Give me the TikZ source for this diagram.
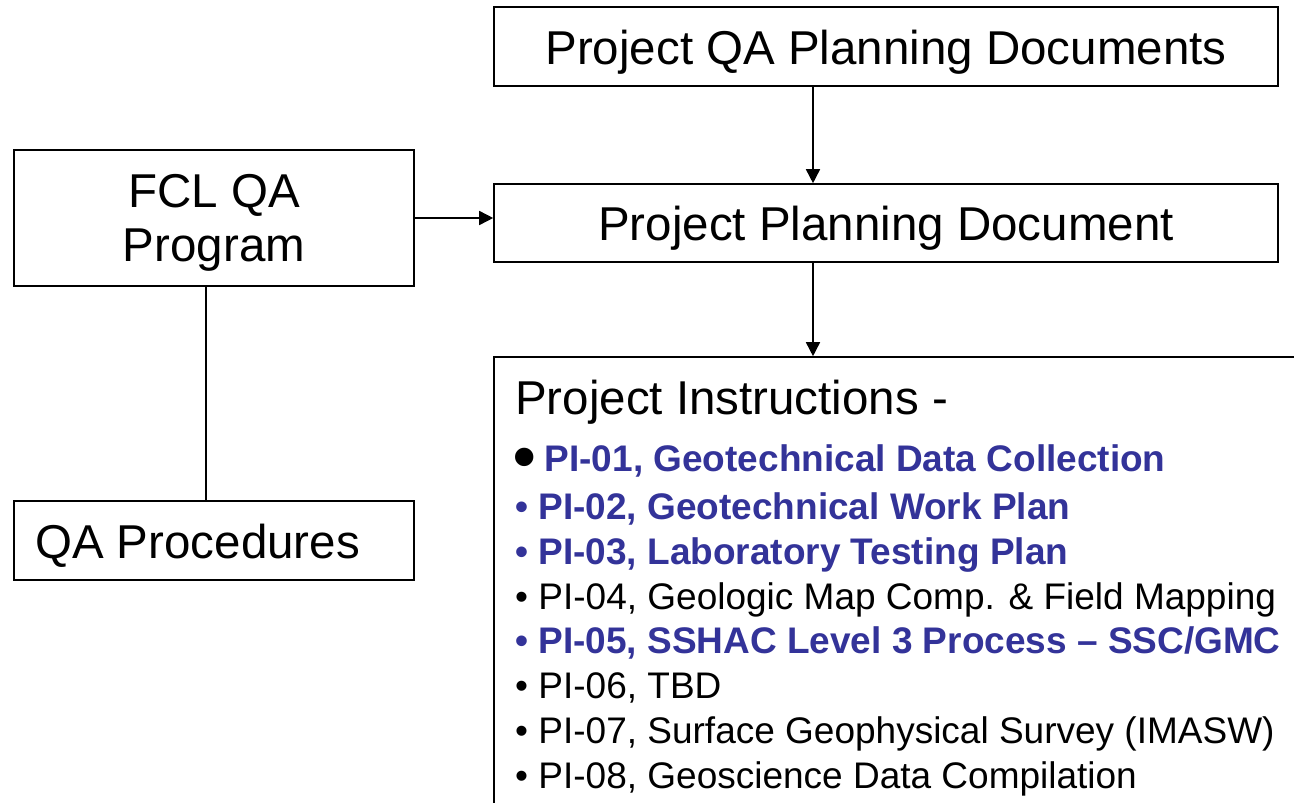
\documentclass[tikz,border=0pt]{standalone}
\usepackage{fontspec}
\setmainfont{Liberation Sans}
\newfontfamily\bigf{Liberation Sans}
\newfontfamily\smf{Liberation Sans}
\usetikzlibrary{arrows.meta}
\definecolor{piblue}{HTML}{333399}
\tikzset{
  box/.style={draw=black, line width=1.6pt, rectangle, inner sep=0pt},
  arr/.style={line width=1.6pt, -{Triangle[length=14pt,width=14pt]}},
  conn/.style={line width=1.6pt},
  bigtxt/.style={inner sep=0pt, font=\bigf\fontsize{47.5}{55}\selectfont},
  item/.style={inner sep=0pt, anchor=base west, font=\smf\fontsize{37}{45}\selectfont},
  blueitem/.style={item, text=piblue, font=\smf\bfseries\fontsize{37}{45}\selectfont},
}
\begin{document}
\begin{tikzpicture}[x=1pt,y=-1pt]
\useasboundingbox (0,0) rectangle (1294,803);
\clip (0,0) rectangle (1294,803);
\fill[white] (0,0) rectangle (1294,803);

% boxes
\node[box, minimum width=784pt, minimum height=79pt] (qaplan) at (886,46.5) {};
\node[box, minimum width=784pt, minimum height=78pt] (plan) at (886,223) {};
\node[box, minimum width=400pt, minimum height=136pt] (fcl) at (214,218) {};
\node[box, minimum width=400pt, minimum height=79pt] (proc) at (214,540.5) {};
\node[box, minimum width=830pt, minimum height=470pt] (pi) at (909,592) {};

% texts
\node[bigtxt, anchor=base] (t1) at (886,64) {Project QA Planning Documents};
\node[bigtxt, anchor=base] (t2) at (886,240) {Project Planning Document};
\node[bigtxt, anchor=base] (t3) at (214,207) {FCL QA};
\node[bigtxt, anchor=base] (t4) at (214,261) {Program};
\node[bigtxt, anchor=base west] (t5) at (35,558) {QA Procedures};
\node[bigtxt, anchor=base west] (t6) at (515,414) {Project Instructions -};

\node[blueitem] (i1) at (513,471) {\raisebox{-7pt}{\color{black}\fontsize{64}{64}\selectfont •}\hspace{9pt}PI-01, Geotechnical Data Collection};
\node[blueitem] (i2) at (515,519) {• PI-02, Geotechnical Work Plan};
\node[blueitem] (i3) at (515,564) {• PI-03, Laboratory Testing Plan};
\node[item] (i4) at (515,609) {• PI-04, Geologic Map Comp. \& Field Mapping};
\node[blueitem] (i5) at (515,653) {• PI-05, SSHAC Level 3 Process – SSC/GMC};
\node[item] (i6) at (515,698) {• PI-06, TBD};
\node[item] (i7) at (515,743) {• PI-07, Surface Geophysical Survey (IMASW)};
\node[item] (i8) at (515,788) {• PI-08, Geoscience Data Compilation};

% connectors
\coordinate (ax) at (813,0);
\coordinate (lx) at (206,0);
\draw[arr] (qaplan.south -| ax) -- (plan.north -| ax);
\draw[arr] (plan.south -| ax) -- (pi.north -| ax);
\draw[arr] (fcl.east) -- (fcl.east -| plan.west);
\draw[conn] (fcl.south -| lx) -- (proc.north -| lx);
\end{tikzpicture}
\end{document}
